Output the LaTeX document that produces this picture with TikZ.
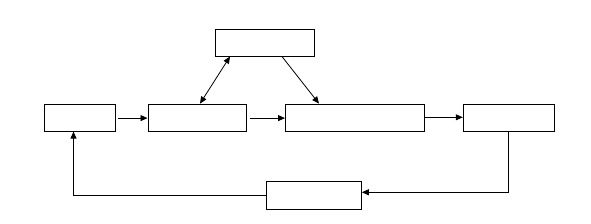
\documentclass[tikz,border=0pt]{standalone}
\usetikzlibrary{arrows.meta,calc}
\begin{document}
\begin{tikzpicture}[x=1pt,y=-1pt,
  blk/.style={draw=black,line width=1pt,inner sep=0pt,minimum height=27pt},
  conn/.style={draw=black,line width=0.8pt,-{Triangle[length=7pt,width=6pt]}},
  dconn/.style={draw=black,line width=0.8pt,{Triangle[length=7pt,width=6pt]}-{Triangle[length=7pt,width=6pt]}}]
\useasboundingbox (0,0) rectangle (591,223);
\node[blk,minimum width=71pt] (A) at (80,117.6) {};
\node[blk,minimum width=98pt] (B) at (197,117.6) {};
\node[blk,minimum width=99pt,minimum height=26.5pt] (C) at (265,42.8) {};
\node[blk,minimum width=139pt] (D) at (355,117.6) {};
\node[blk,minimum width=91pt] (E) at (508.8,117.6) {};
\node[blk,minimum width=95pt,minimum height=28pt] (F) at (313.8,195.3) {};
\draw[conn,shorten <=2pt] ([yshift=-0.5pt]A.east) -- ([yshift=-0.5pt]B.west);
\draw[conn,shorten <=3pt] ([yshift=-0.5pt]B.east) -- ([yshift=-0.5pt]D.west);
\draw[conn] ([yshift=0.3pt]D.east) -- ([yshift=0.3pt]E.west);
\draw[dconn] ([xshift=3pt]B.north) -- ([xshift=-35pt]C.south);
\draw[conn] ([xshift=17pt]C.south) -- ([xshift=-36pt]D.north);
\draw[conn] (E.south) |- ([yshift=3pt]F.east);
\coordinate (corner) at (73.5,195.3);
\draw[conn] (F.west) -- (corner) -- ([xshift=-6.5pt]A.south);
\end{tikzpicture}
\end{document}
